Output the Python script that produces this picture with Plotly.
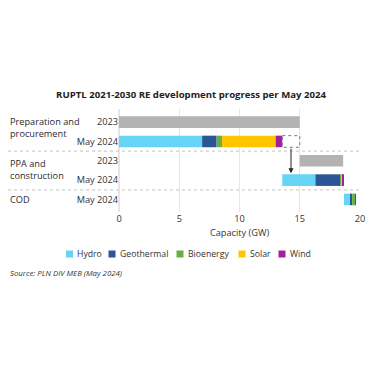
import plotly.graph_objects as go

# ---- data ----
row_labels = ["2023", "May 2024", "2023", "May 2024", "May 2024"]
stage_names = ["Preparation and<br>procurement", "PPA and<br>construction", "COD"]
series_names = ["Hydro", "Geothermal", "Bioenergy", "Solar", "Wind"]
series_colors = ["#66D4F5", "#2B5597", "#6AAE48", "#FFC600", "#A0219B"]

# May 2024 capacity (GW) per stage: Preparation, PPA, COD
hydro = [6.9, 2.75, 0.5]
geothermal = [1.2, 2.05, 0.18]
bioenergy = [0.45, 0.08, 0.25]
solar = [4.45, 0.12, 0.03]
wind = [0.55, 0.12, 0.02]

# 2023 plan (GW): Preparation, PPA
plan_2023 = [15.0, 3.6]

series_values = [hydro, geothermal, bioenergy, solar, wind]

# row positions
rows_2023 = [0, 2]
rows_2024 = [1, 3, 4]
stage_label_pos = [0.3, 2.45, 4]

stage_totals = [sum(s[i] for s in series_values) for i in range(3)]
stage_bases = [0, stage_totals[0], stage_totals[0] + stage_totals[1]]
bases_2023 = [0, plan_2023[0]]

# ---- layout geometry (screen pixels; page body has an 8px margin) ----
OFF = 8
W, H = 375 - OFF, 366 - OFF
S_LEFT, S_RIGHT, S_TOP, S_BOTTOM = 119, 360, 109, 212
ML, MT = S_LEFT - OFF, S_TOP - OFF
PW, PH = S_RIGHT - S_LEFT, S_BOTTOM - S_TOP
MR, MB = W - ML - PW, H - MT - PH
TXT = "#333333"


def px_x(px):
    return (px - S_LEFT) / PW


def px_y(py):
    return (S_BOTTOM - py) / PH


fig = go.Figure()
BAR_W = 0.6
LEFT_X = px_x(8)

fig.add_trace(go.Bar(
    x=plan_2023, y=rows_2023, base=bases_2023, orientation="h",
    marker=dict(color="#B3B3B3", line=dict(width=0)), width=BAR_W,
    showlegend=False, hoverinfo="skip"))

running = list(stage_bases)
for name, vals, col in zip(series_names, series_values, series_colors):
    fig.add_trace(go.Bar(
        x=vals, y=rows_2024, base=list(running), orientation="h", name=name,
        marker=dict(color=col, line=dict(width=0)), width=BAR_W,
        showlegend=False))
    running = [r + v for r, v in zip(running, vals)]

# dashed box: remaining prep capacity moved to PPA
fig.add_shape(type="rect", xref="x", yref="y",
              x0=stage_totals[0], x1=plan_2023[0],
              y0=1 - BAR_W / 2, y1=1 + BAR_W / 2,
              line=dict(color="#777777", width=1, dash="dot"),
              fillcolor="rgba(0,0,0,0)")
mid = (stage_totals[0] + plan_2023[0]) / 2
fig.add_annotation(x=mid, y=3 - BAR_W / 2 - 0.05, ax=mid, ay=1 + BAR_W / 2,
                   xref="x", yref="y", axref="x", ayref="y",
                   text="", showarrow=True, arrowhead=2, arrowsize=1,
                   arrowwidth=1, arrowcolor="#222222")

# separators
for yv in [1.5, 3.5]:
    fig.add_shape(type="line", xref="paper", yref="y",
                  x0=px_x(OFF), x1=px_x(362), y0=yv, y1=yv,
                  line=dict(color="#CFCFCF", width=1.2, dash="dot"))

# stage labels
for name, yp in zip(stage_names, stage_label_pos):
    fig.add_annotation(x=LEFT_X, xref="paper", y=yp, yref="y",
                       text=name, showarrow=False, xanchor="left",
                       yanchor="middle", align="left",
                       font=dict(size=9.2, color="#2A2A2A"))

# legend (manual, compact)
legend_px = [66, 108.5, 176.5, 238.5, 278.5]
LEG_Y = 254
SQ = 7
for name, col, lx in zip(series_names, series_colors, legend_px):
    fig.add_shape(type="rect", xref="paper", yref="paper",
                  x0=px_x(lx), x1=px_x(lx + SQ),
                  y0=px_y(LEG_Y + SQ / 2), y1=px_y(LEG_Y - SQ / 2),
                  line=dict(width=0), fillcolor=col)
    fig.add_annotation(x=px_x(lx + SQ + 2), xref="paper", y=px_y(LEG_Y), yref="paper",
                       text=name, showarrow=False, xanchor="left", yanchor="middle",
                       font=dict(size=8.7, color=TXT))

fig.add_annotation(x=LEFT_X, xref="paper", y=px_y(273), yref="paper",
                   text="<i>Source: PLN DIV MEB (May 2024)</i>", showarrow=False,
                   xanchor="left", yanchor="middle",
                   font=dict(size=7.8, color=TXT))

fig.update_layout(
    width=W, height=H,
    margin=dict(l=ML, r=MR, t=MT, b=MB),
    paper_bgcolor="white", plot_bgcolor="white",
    font=dict(family="Open Sans", color=TXT),
    barmode="overlay", showlegend=False,
    title=dict(text="<b>RUPTL 2021-2030 RE development progress per May 2024</b>",
               x=(191 - OFF) / W, xanchor="center", y=1 - (95 - OFF) / H,
               yanchor="middle", yref="container",
               font=dict(size=9.6, color="#222222")),
    xaxis=dict(range=[0, 20], tickvals=[0, 5, 10, 15, 20],
               showgrid=True, gridcolor="#E6E6E6", gridwidth=1,
               zeroline=True, zerolinecolor="#E6E6E6",
               tickfont=dict(size=9.2, color=TXT),
               title=dict(text="Capacity (GW)", font=dict(size=9.2, color=TXT),
                          standoff=5),
               showline=False, ticks="", automargin=False),
    yaxis=dict(range=[4.65, -0.68], tickvals=list(range(5)), ticktext=row_labels,
               showgrid=False, zeroline=False, showline=False, ticks="",
               tickfont=dict(size=9.2, color=TXT), automargin=False),
)

fig.write_html("out.html")
